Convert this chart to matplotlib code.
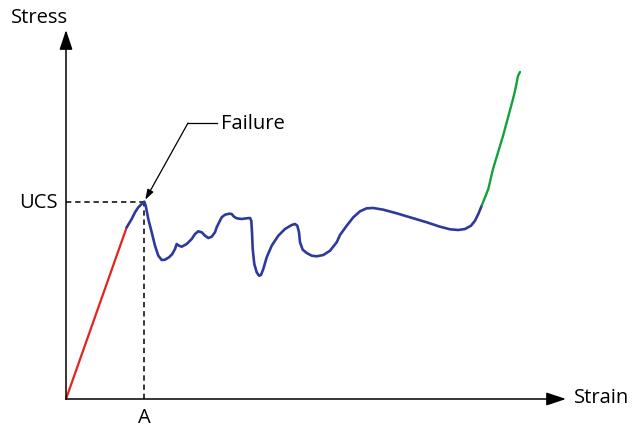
import matplotlib
matplotlib.use("Agg")
import matplotlib.pyplot as plt

plt.rcParams['font.family'] = ['Open Sans', 'DejaVu Sans']

# Schematic stress-strain curve (strain, stress) in drawing units
elastic_strain = [0, 60.7]
elastic_stress = [0, 171.7]

post_strain = [60.7, 65.7, 69, 72.3, 75.7, 78.3, 79.7, 82.3, 85.7, 89, 92.3, 95.7, 99, 103, 106.3,
               109, 110.7, 113, 115.7, 120.7, 125.7, 129, 132.3, 135.7, 139, 142.3, 145.7, 149,
               150.7, 152.3, 155.7, 159, 163.3, 165.7, 168, 170.7, 175.7, 180.7, 184, 185.3, 186,
               186.7, 188.3, 190.7, 193, 195, 197.3, 200.7, 205.7, 212.3, 219, 225.7, 229, 231.3,
               233, 234, 236.7, 240.7, 245.7, 250.7, 257.3, 264, 270.7, 274, 280.7, 287.3, 294,
               300.7, 307.3, 317.3, 330.7, 344, 360.7, 374, 384, 392.3, 399, 405, 409, 412.3, 415.7]
post_stress = [171.7, 180, 186.7, 191.7, 195, 197.3, 193.3, 180, 166.7, 153.3, 143.3, 139, 139.3,
               141.7, 145, 150, 155, 153.3, 152.3, 155, 160, 165, 167.7, 166.7, 163.3, 161, 162.3,
               166.7, 171.7, 175, 181.7, 184.3, 185.3, 185, 182.3, 180.7, 180, 180.7, 181, 178.3,
               166.7, 150, 135, 126.7, 123.3, 124, 130, 141.7, 153.3, 163.3, 170, 174, 175, 173.3,
               166.7, 156.7, 149.3, 146, 143.3, 142.7, 144, 148.3, 156.7, 164, 173.3, 181.7, 187.7,
               190.7, 191, 189.3, 185.7, 181.7, 176.7, 172.3, 169.7, 169, 170, 173.3, 178.3, 185,
               193.3]

hardening_strain = [415.7, 422.3, 427, 437, 447, 449, 452, 454]
hardening_stress = [193.3, 210, 230, 263, 300, 308, 323, 327]

ucs_value = 197.3
failure_strain = 78.3

fig = plt.figure(figsize=(6.4, 4.27), dpi=100)
ax = fig.add_axes([0, 0, 1, 1])
ax.set_xlim(-66, 574)
ax.set_ylim(-27, 400)
ax.axis('off')

# axes arrows
arrow_style = dict(arrowstyle='-|>,head_length=1.2,head_width=0.4', lw=1.1, color='black',
                   shrinkA=0, shrinkB=0)
ax.annotate('', xy=(0, 369), xytext=(0, 0), arrowprops=arrow_style)
ax.annotate('', xy=(500, 0), xytext=(0, 0), arrowprops=arrow_style)

# dashed guides
dash = (0, (3.5, 2.5))
ax.plot([0, failure_strain], [ucs_value, ucs_value], ls=dash, color='black', lw=1.1)
ax.plot([failure_strain, failure_strain], [0, ucs_value], ls=dash, color='black', lw=1.1)

ax.plot(elastic_strain, elastic_stress, color='#E3231D', lw=1.6, solid_capstyle='round')
ax.plot(post_strain, post_stress, color='#2D3A9B', lw=1.9, solid_joinstyle='round',
        solid_capstyle='round')
ax.plot(hardening_strain, hardening_stress, color='#12A23A', lw=1.7, solid_capstyle='round')

# labels
fs = 14.5
ax.text(-8, ucs_value, 'UCS', ha='right', va='center', fontsize=fs)
ax.text(failure_strain, -18, 'A', ha='center', va='center', fontsize=fs)
ax.text(-26, 382, 'Stress', ha='center', va='center', fontsize=fs)
ax.text(508, 2, 'Strain', ha='left', va='center', fontsize=fs)
ax.text(155, 276, 'Failure', ha='left', va='center', fontsize=fs)

# failure pointer
ax.plot([122, 151], [276, 276], color='black', lw=0.9)
ax.annotate('', xy=(failure_strain + 1, ucs_value + 2), xytext=(122, 276),
            arrowprops=dict(arrowstyle='-|>,head_length=0.6,head_width=0.2', lw=0.9,
                            color='black', shrinkA=0, shrinkB=0))

fig.savefig('out.png', dpi=100)
